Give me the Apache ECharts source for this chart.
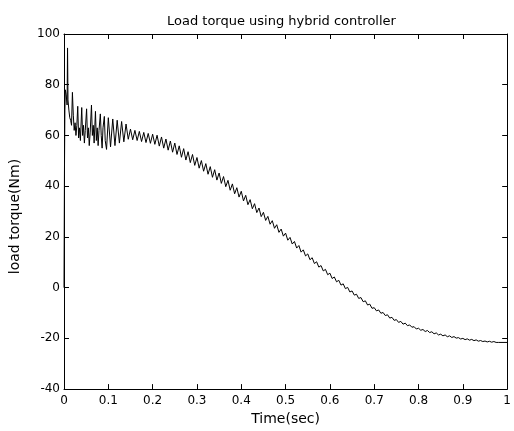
<!DOCTYPE html>
<html>
<head>
<meta charset="utf-8">
<script src="https://cdn.jsdelivr.net/npm/echarts@6/dist/echarts.min.js"></script>
<style>
html,body{margin:0;padding:0;background:#fff;}
#chart{width:514px;height:431px;}
</style>
</head>
<body>
<div id="chart"></div>
<script>
const chartTitle = 'Load torque using hybrid controller';
const xAxisTitle = 'Time(sec)';
const yAxisTitle = 'load torque(Nm)';
const xTicks = [0, 0.1, 0.2, 0.3, 0.4, 0.5, 0.6, 0.7, 0.8, 0.9, 1];
const yTicks = [-40, -20, 0, 20, 40, 60, 80, 100];

// [time (s), load torque (Nm)]
const startTransient = [
  [0,0],[0.001,45],[0.002,70],[0.003,78],[0.005,76],[0.007,72],[0.008,94.5],[0.009,74],
  [0.011,70],[0.013,67],[0.015,66],[0.017,64],[0.019,77],[0.021,68],[0.023,62],[0.025,65],
  [0.027,60],[0.029,64],[0.031,71.5],[0.033,59],[0.035,63],[0.037,58],[0.040,71],[0.042,60],
  [0.044,64],[0.046,57],[0.048,62],[0.051,70.5],[0.053,59],[0.055,63],[0.057,56],[0.059,61],
  [0.062,72],[0.064,60],[0.066,64],[0.068,57],[0.071,69.5],[0.073,58],[0.075,63],[0.077,56],
  [0.079,62],[0.082,68.5],[0.084,60],[0.086,55],[0.088,63],[0.091,67.5],[0.093,58],[0.096,54.5],
  [0.100,67],[0.105,55.5],[0.110,66.5],[0.115,56],[0.120,66],[0.125,57],[0.130,65.5],[0.135,57.5],
  [0.140,64.5],[0.145,58.5],[0.150,62.5],[0.155,58.3],[0.160,62],[0.165,58],[0.170,61.6],[0.175,57.6],
  [0.180,61.2],[0.185,57.2],[0.190,60.8],[0.195,56.9]
];
const decayPart = [
  [0.200,60.5],[0.205,56.5],[0.210,60.1],[0.215,55.8],[0.220,59.4],[0.225,55],[0.230,58.6],[0.235,54.2],
  [0.240,57.8],[0.245,53.4],[0.250,57],[0.255,52.5],[0.260,55.9],[0.265,51.4],[0.270,54.8],[0.275,50.3],
  [0.280,53.6],[0.285,49.3],[0.290,52.5],[0.295,48.2],[0.300,51.3],[0.305,47.1],[0.310,50.1],[0.315,45.9],
  [0.320,48.9],[0.325,44.7],[0.330,47.7],[0.335,43.5],[0.340,46.5],[0.345,42.4],[0.350,45.2],[0.355,41.1],
  [0.360,43.8],[0.365,39.8],[0.370,42.3],[0.375,38.4],[0.380,40.9],[0.385,37],[0.390,39.4],[0.395,35.7],
  [0.400,38],[0.405,34.2],[0.410,36.4],[0.415,32.7],[0.420,34.7],[0.425,31.1],[0.430,33.1],[0.435,29.6],
  [0.440,31.4],[0.445,28],[0.450,29.7],[0.455,26.5],[0.460,28.1],[0.465,25],[0.470,26.4],[0.475,23.4],
  [0.480,24.8],[0.485,21.8],[0.490,23.1],[0.495,20.3],[0.500,21.5],[0.505,18.7],[0.510,19.8],[0.515,17.2],
  [0.520,18.2],[0.525,15.6],[0.530,16.6],[0.535,14],[0.540,14.9],[0.545,12.5],[0.550,13.3],[0.555,11],
  [0.560,11.8],[0.565,9.5],[0.570,10.2],[0.575,8.1],[0.580,8.7],[0.585,6.6],[0.590,7.2],[0.595,5.1]
];
const tailPart = [
  [0.600,5.7],[0.605,3.6],[0.610,4.2],[0.615,2.3],[0.620,2.9],[0.625,1],[0.630,1.5],[0.635,-0.4],
  [0.640,0.1],[0.645,-1.7],[0.650,-1.3],[0.655,-2.95],[0.660,-2.6],[0.665,-4.25],[0.670,-3.9],[0.675,-5.55],
  [0.680,-5.2],[0.685,-6.85],[0.690,-6.5],[0.695,-8.15],[0.700,-7.9],[0.705,-9.15],[0.710,-8.8],[0.715,-10.1],
  [0.720,-9.8],[0.725,-11],[0.730,-10.7],[0.735,-12],[0.740,-11.7],[0.745,-12.9],[0.750,-12.6],[0.755,-13.7],
  [0.760,-13.3],[0.765,-14.4],[0.770,-14],[0.775,-15],[0.780,-14.7],[0.785,-15.6],[0.790,-15.4],[0.795,-16.3],
  [0.800,-16],[0.805,-16.8],[0.810,-16.5],[0.815,-17.3],[0.820,-16.9],[0.825,-17.7],[0.830,-17.4],[0.835,-18.2],
  [0.840,-17.85],[0.845,-18.65],[0.850,-18.35],[0.855,-19],[0.860,-18.65],[0.865,-19.35],[0.870,-19],[0.875,-19.65],
  [0.880,-19.3],[0.885,-19.9],[0.890,-19.7],[0.895,-20.25],[0.900,-20],[0.905,-20.5],[0.910,-20.2],[0.915,-20.7],
  [0.920,-20.4],[0.925,-20.9],[0.930,-20.6],[0.935,-21.1],[0.940,-20.85],[0.945,-21.25],[0.950,-21.05],[0.955,-21.4],
  [0.960,-21.15],[0.965,-21.5],[0.970,-21.25],[0.975,-21.6],[0.980,-21.6],[1.000,-21.6]
];
const torquePoints = startTransient.concat(decayPart, tailPart);

const FONT = '"DejaVu Sans", Arial, sans-serif';
const chart = echarts.init(document.getElementById('chart'), null, {renderer: 'canvas'});
const axisCommon = {
  axisLine: {show: true, onZero: false, lineStyle: {color: '#000', width: 1}},
  axisTick: {show: true, inside: true, length: 5, lineStyle: {color: '#000', width: 1}},
  splitLine: {show: false}
};
chart.setOption({
  animation: false,
  backgroundColor: '#fff',
  title: {
    text: chartTitle, left: 167, top: 15, padding: 0,
    textStyle: {fontFamily: FONT, fontSize: 13, fontWeight: 'normal', color: '#000'}
  },
  grid: {left: 57, right: 2, top: 34, bottom: 39, containLabel: false},
  xAxis: [
    Object.assign({
      type: 'value', min: xTicks[0], max: xTicks[xTicks.length - 1], interval: 0.1, position: 'bottom',
      name: xAxisTitle, nameLocation: 'middle', nameGap: 22,
      nameTextStyle: {fontFamily: FONT, fontSize: 14, color: '#000'},
      axisLabel: {fontFamily: FONT, fontSize: 12, color: '#000', margin: 6}
    }, axisCommon),
    Object.assign({
      type: 'value', min: xTicks[0], max: xTicks[xTicks.length - 1], interval: 0.1, position: 'top',
      axisLabel: {show: false}
    }, axisCommon)
  ],
  yAxis: [
    Object.assign({
      type: 'value', min: yTicks[0], max: yTicks[yTicks.length - 1], interval: 20, position: 'left',
      name: yAxisTitle, nameLocation: 'middle', nameGap: 42, nameRotate: 90,
      nameTextStyle: {fontFamily: FONT, fontSize: 14, color: '#000', padding: [0, 10, 0, 0]},
      axisLabel: {fontFamily: FONT, fontSize: 12, color: '#000', margin: 4}
    }, axisCommon),
    Object.assign({
      type: 'value', min: yTicks[0], max: yTicks[yTicks.length - 1], interval: 20, position: 'right',
      axisLabel: {show: false}
    }, axisCommon)
  ],
  series: [{
    type: 'line', xAxisIndex: 0, yAxisIndex: 0,
    data: torquePoints, showSymbol: false, symbol: 'none',
    lineStyle: {color: '#000', width: 1}, clip: true
  }]
});
</script>
</body>
</html>
